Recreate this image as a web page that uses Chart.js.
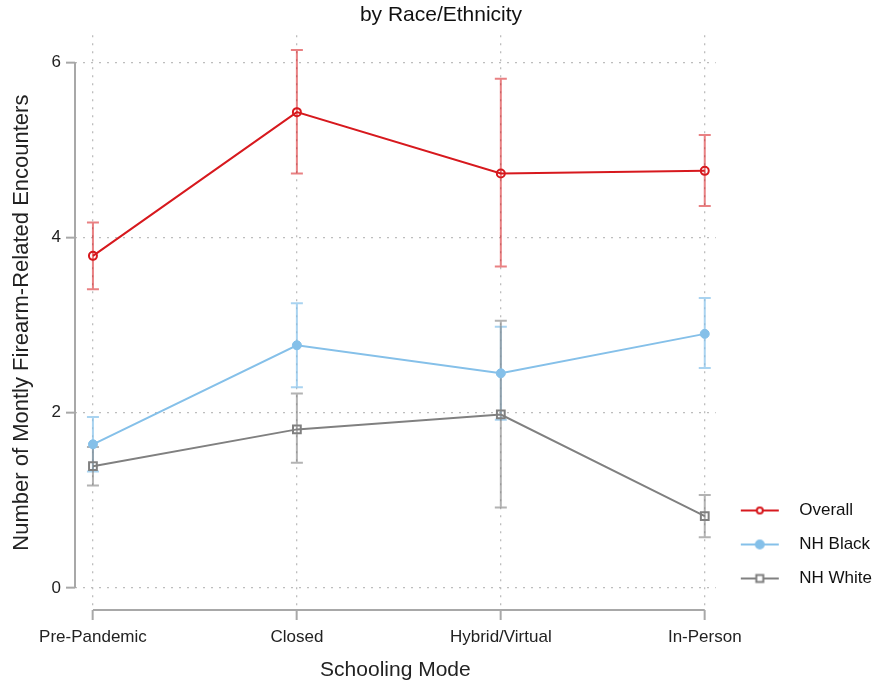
<!DOCTYPE html>
<html>
<head>
<meta charset="utf-8">
<script src="https://cdn.jsdelivr.net/npm/chart.js@4"></script>
<style>
  html, body { margin: 0; padding: 0; background: #fff; }
  #wrap { width: 876px; height: 689px; }
</style>
</head>
<body>
<div id="wrap"><canvas id="chart" width="876" height="689"></canvas></div>
<script>
// categories and values
const categories = ['Pre-Pandemic', 'Closed', 'Hybrid/Virtual', 'In-Person'];
const yTicks = [0, 2, 4, 6];

const overall = [3.79, 5.43, 4.73, 4.76];
const overallLow = [3.41, 4.73, 3.67, 4.36];
const overallHigh = [4.17, 6.14, 5.81, 5.17];

const black = [1.64, 2.77, 2.45, 2.90];
const blackLow = [1.33, 2.29, 1.92, 2.51];
const blackHigh = [1.95, 3.25, 2.98, 3.31];

const white = [1.39, 1.81, 1.98, 0.82];
const whiteLow = [1.17, 1.43, 0.92, 0.58];
const whiteHigh = [1.61, 2.22, 3.05, 1.06];

const RED = 'rgb(215,25,30)', RED_CI = 'rgba(215,25,30,0.55)';
const BLUE = 'rgb(133,192,233)', BLUE_CI = 'rgba(133,192,233,0.7)';
const GREY = 'rgb(128,128,128)', GREY_CI = 'rgba(128,128,128,0.6)';
const AXIS = '#a8a8a8';

Chart.defaults.font.family = '"Liberation Sans", Arial, sans-serif';
Chart.defaults.color = '#222';

const toPoints = arr => arr.map((y, i) => ({ x: i, y }));

// small line + marker sample for the legend
function legendSample(color, style, radius, filled) {
  const c = document.createElement('canvas');
  c.width = 58; c.height = 16;
  const ctx = c.getContext('2d');
  ctx.strokeStyle = color;
  ctx.lineWidth = 2;
  ctx.beginPath(); ctx.moveTo(8, 8); ctx.lineTo(46, 8); ctx.stroke();
  ctx.fillStyle = filled ? color : '#fff';
  ctx.beginPath();
  if (style === 'rect') ctx.rect(27 - radius, 8 - radius, radius * 2, radius * 2);
  else ctx.arc(27, 8, radius, 0, Math.PI * 2);
  ctx.fill(); ctx.stroke();
  return c;
}
const samples = [
  legendSample(RED, 'circle', 3, false),
  legendSample(BLUE, 'circle', 4, true),
  legendSample(GREY, 'rect', 3.5, false)
];

const ciSets = [
  { lo: overallLow, hi: overallHigh, color: RED_CI },
  { lo: blackLow, hi: blackHigh, color: BLUE_CI },
  { lo: whiteLow, hi: whiteHigh, color: GREY_CI }
];

// error bars + offset axis lines, drawn under the series
const errorBars = {
  id: 'errorBars',
  beforeDatasetsDraw(chart) {
    const { ctx, scales: { x, y }, chartArea } = chart;
    ctx.save();
    // axis lines only between the end ticks
    ctx.strokeStyle = AXIS;
    ctx.lineWidth = 2;
    ctx.beginPath();
    ctx.moveTo(x.getPixelForValue(0), chartArea.bottom);
    ctx.lineTo(x.getPixelForValue(categories.length - 1), chartArea.bottom);
    ctx.moveTo(chartArea.left, y.getPixelForValue(yTicks[0]));
    ctx.lineTo(chartArea.left, y.getPixelForValue(yTicks[yTicks.length - 1]));
    ctx.stroke();

    ciSets.forEach(set => {
      ctx.strokeStyle = set.color;
      ctx.lineWidth = 2;
      set.lo.forEach((lo, i) => {
        const px = x.getPixelForValue(i);
        const p1 = y.getPixelForValue(lo);
        const p2 = y.getPixelForValue(set.hi[i]);
        ctx.beginPath();
        ctx.moveTo(px, p1); ctx.lineTo(px, p2);
        ctx.moveTo(px - 6, p1); ctx.lineTo(px + 6, p1);
        ctx.moveTo(px - 6, p2); ctx.lineTo(px + 6, p2);
        ctx.stroke();
      });
    });
    ctx.restore();
  },
  afterLayout(chart) {
    // nudge legend up a little
    chart.legend.top -= 6;
    chart.legend.bottom -= 6;
  }
};

const gridOpts = {
  color: '#bdbdbd',
  lineWidth: 1.3,
  drawTicks: true,
  tickColor: AXIS,
  tickWidth: 2,
  tickBorderDash: []
};
// in v4 the grid line dash comes from border.dash
const borderOpts = { display: false, dash: [2, 6] };

new Chart(document.getElementById('chart'), {
  type: 'line',
  data: {
    datasets: [
      {
        label: 'Overall',
        data: toPoints(overall),
        borderColor: RED, borderWidth: 2,
        pointStyle: 'circle', pointRadius: 4, pointBorderWidth: 2,
        pointBorderColor: RED, pointBackgroundColor: 'rgba(255,255,255,0)'
      },
      {
        label: 'NH Black',
        data: toPoints(black),
        borderColor: BLUE, borderWidth: 2,
        pointStyle: 'circle', pointRadius: 4.5, pointBorderWidth: 1,
        pointBorderColor: BLUE, pointBackgroundColor: BLUE
      },
      {
        label: 'NH White',
        data: toPoints(white),
        borderColor: GREY, borderWidth: 2,
        pointStyle: 'rect', pointRadius: 5.5, pointBorderWidth: 2,
        pointBorderColor: GREY, pointBackgroundColor: 'rgba(255,255,255,0)'
      }
    ]
  },
  options: {
    responsive: false,
    animation: false,
    events: [],
    layout: { padding: { right: -6 } },
    plugins: {
      title: {
        display: true,
        text: 'by Race/Ethnicity',
        color: '#111',
        font: { size: 21, weight: 'normal' },
        padding: { top: 3, bottom: 7 }
      },
      legend: {
        position: 'right',
        align: 'end',
        fullSize: false,
        labels: {
          usePointStyle: true,
          pointStyleWidth: 58,
          padding: 17,
          color: '#111',
          font: { size: 17 },
          generateLabels(chart) {
            const items = Chart.defaults.plugins.legend.labels.generateLabels(chart);
            items.forEach((it, i) => { it.pointStyle = samples[i]; });
            return items;
          }
        }
      },
      tooltip: { enabled: false }
    },
    scales: {
      x: {
        type: 'linear',
        min: -0.088,
        max: 3.054,
        border: borderOpts,
        grid: { ...gridOpts, tickLength: 10 },
        afterBuildTicks: s => { s.ticks = categories.map((_, i) => ({ value: i })); },
        afterFit: s => { s.height = 79; },
        ticks: {
          padding: 7,
          font: { size: 17 },
          callback: v => categories[v]
        },
        title: {
          display: true,
          text: 'Schooling Mode',
          font: { size: 21 },
          padding: { top: 10, bottom: 6 }
        }
      },
      y: {
        min: -0.251,
        max: 6.308,
        border: borderOpts,
        grid: { ...gridOpts, tickLength: 9 },
        afterBuildTicks: s => { s.ticks = yTicks.map(v => ({ value: v })); },
        afterFit: s => { s.width = 75; },
        ticks: {
          padding: 5,
          font: { size: 17 }
        },
        title: {
          display: true,
          text: 'Number of Montly Firearm-Related Encounters',
          font: { size: 22 },
          padding: { top: 9, bottom: 4 }
        }
      }
    }
  },
  plugins: [errorBars]
});
</script>
</body>
</html>
